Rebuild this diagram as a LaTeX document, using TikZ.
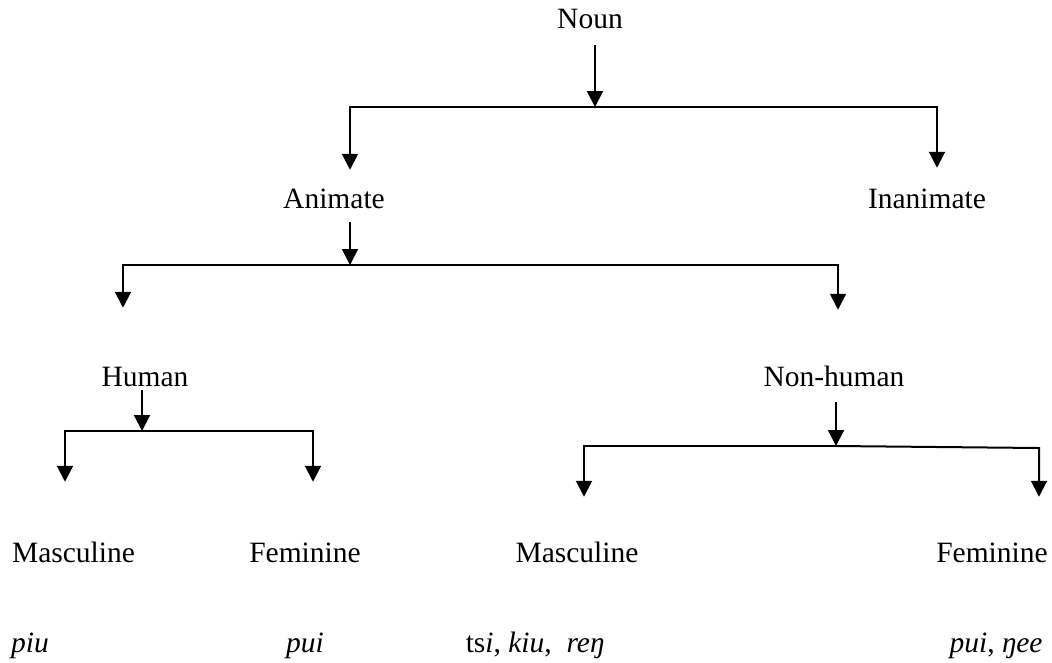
\documentclass[tikz,border=0pt]{standalone}
\usepackage{fontspec}
\setmainfont{Liberation Serif}
\usetikzlibrary{arrows.meta}

\begin{document}
\begin{tikzpicture}[x=1pt,y=-1pt,>={Triangle[length=16pt,width=16pt]},
  lbl/.style={anchor=base,inner sep=0pt,text height=20.65pt,text depth=6.5pt,font=\fontsize{29.5}{34}\selectfont},
  arr/.style={->,line width=2pt}]
\useasboundingbox (0,0) rectangle (1052,662);
% labels
\node[lbl] (noun) at (590,28) {Noun};
\node[lbl] (anim) at (334,208) {Animate};
\node[lbl] (inan) at (927,208) {Inanimate};
\node[lbl] (hum) at (145,386) {Human};
\node[lbl] (nonhum) at (834,386) {Non-human};
\node[lbl] (hmasc) at (73.5,562) {Masculine};
\node[lbl] (hfem) at (305,562) {Feminine};
\node[lbl] (nmasc) at (577,562) {Masculine};
\node[lbl] (nfem) at (992,562) {Feminine};
\node[lbl] (ex1) at (30,652) {\textit{piu}};
\node[lbl] (ex2) at (305,652) {\textit{pui}};
\node[lbl] (ex3) at (535,652) {ts\textit{i}, \textit{kiu},\ \ \textit{reŋ}};
\node[lbl] (ex4) at (996,652) {\textit{pui}, \textit{ŋee}};
% branch points
\coordinate (b1) at (595,107);
\coordinate (b1l) at (350,107);
\coordinate (b1r) at (937,107);
\coordinate (b2) at (350,265);
\coordinate (b2l) at (123,265);
\coordinate (b2r) at (838,265);
\coordinate (b3) at (142,431);
\coordinate (b3l) at (65,431);
\coordinate (b3r) at (313,431);
\coordinate (b4) at (836,446);
\coordinate (b4l) at (584,446);
\coordinate (b4r) at (1039,448);
% Noun
\draw[arr,shorten <=10.5pt] (noun.south -| b1)--(b1);
\draw[arr,shorten >=17.4pt] (b1)--(b1l)--(b1l |- anim.north);
\draw[arr,shorten >=19.4pt] (b1)--(b1r)--(b1r |- inan.north);
% Animate
\draw[arr,shorten <=7.5pt] (anim.south -| b2)--(b2);
\draw[arr,shorten >=57.4pt] (b2)--(b2l)--(b2l |- hum.north);
\draw[arr,shorten >=55.4pt] (b2)--(b2r)--(b2r |- nonhum.north);
% Human
\draw[arr,shorten <=-2.5pt] (hum.south -| b3)--(b3);
\draw[arr,shorten >=59.4pt] (b3)--(b3l)--(b3l |- hmasc.north);
\draw[arr,shorten >=59.4pt] (b3)--(b3r)--(b3r |- hfem.north);
% Non-human
\draw[arr,shorten <=9.5pt] (nonhum.south -| b4)--(b4);
\draw[arr,shorten >=44.4pt] (b4)--(b4l)--(b4l |- nmasc.north);
\draw[arr,shorten >=44.4pt] (b4)--(b4r)--(b4r |- nfem.north);
\end{tikzpicture}
\end{document}
